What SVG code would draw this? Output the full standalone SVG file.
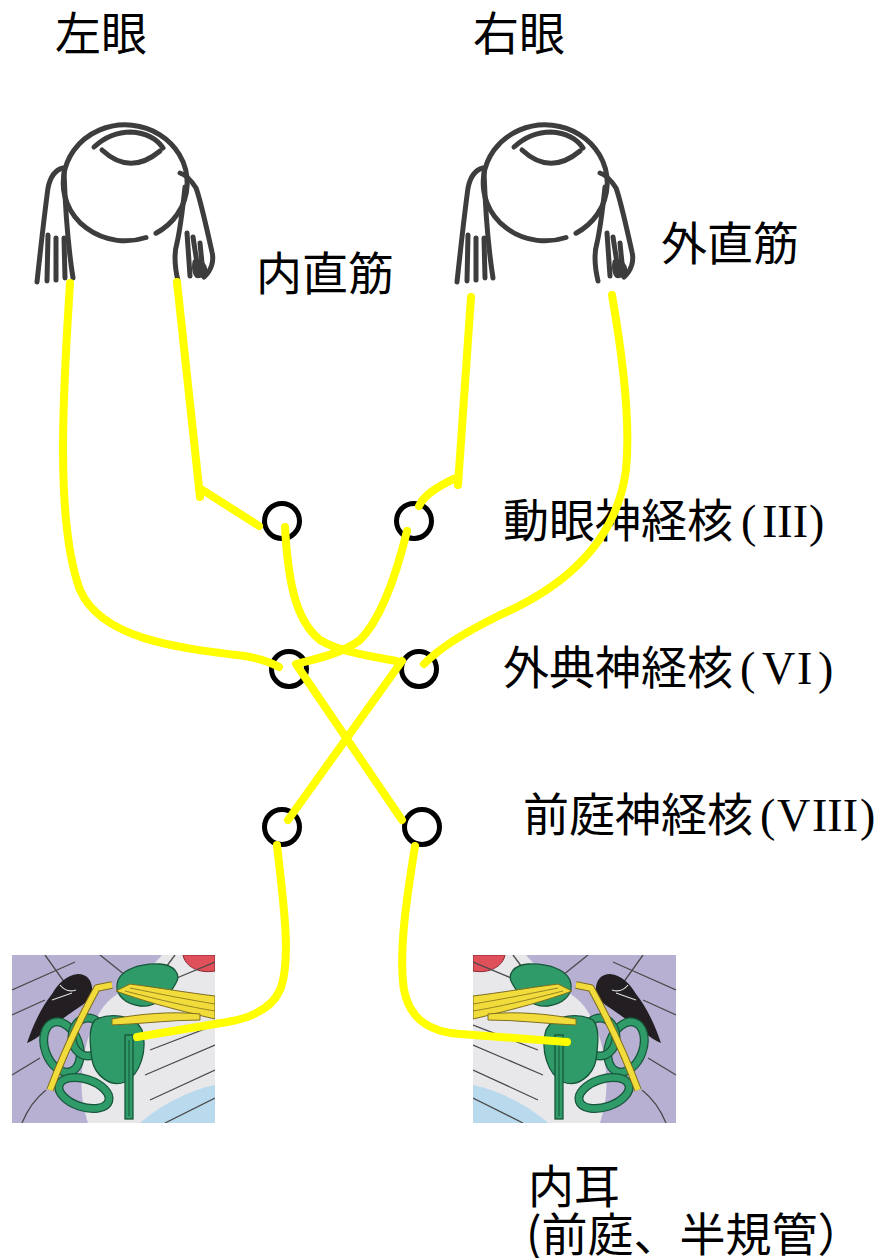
<svg xmlns="http://www.w3.org/2000/svg" xmlns:xlink="http://www.w3.org/1999/xlink" width="877" height="1258" viewBox="0 0 877 1258">
  <style>
    .lbl { font-family: "Noto Sans CJK JP", "Noto Sans CJK SC", sans-serif; font-size: 46px; fill: #000; }
    .rom { font-family: "Liberation Serif", serif; }
    .nuc { fill: none; stroke: #000; stroke-width: 5; }
    .nerve { fill: none; stroke: #ffff00; stroke-width: 8; stroke-linecap: round; stroke-linejoin: round; }
    .pencil { fill: none; stroke: #3d3d3d; stroke-width: 5; stroke-linecap: round; stroke-linejoin: round; }
    .thin { fill: none; stroke: #4a4a4a; stroke-width: 1.3; }
    .canal-out { fill: none; stroke: #17563a; stroke-width: 9; }
    .canal-in { fill: none; stroke: #2e9b69; stroke-width: 6.5; }
    .green { fill: #2e9b69; stroke: #17563a; stroke-width: 1.3; }
    .yel { fill: #f2dc3c; stroke: #7d6d1c; stroke-width: 1; }
  </style>
  <defs>
    <!-- pencil sketch of an eyeball with its two horizontal recti, local origin at top-left -->
    <g id="eyeball">
      <path class="pencil" d="M116,127.5 A62,58 0 1 1 126,123.2"/>
      <path class="pencil" d="M64,37 C76,26 90,22 101,22 C117,23 127,29 133,38"/>
      <path class="pencil" d="M72,40 Q100,66 130,41"/>
      <!-- muscle band on the left -->
      <path class="pencil" d="M33,58 C25,60 20,68 18,78 C15,100 11,135 7,172"/>
      <path class="pencil" d="M34,62 C35,90 37,130 43,168"/>
      <path class="pencil" d="M18,125 L17,171 M26,128 L26,170 M34,128 L35,168"/>
      <!-- muscle band on the right -->
      <path class="pencil" d="M150,63 C156,65 161,70 166,78 C170,88 176,115 182,142 C184,150 182,160 174,167"/>
      <path class="pencil" d="M155,77 C153,95 151,115 147,133 C144,143 145,158 148,171"/>
      <path class="pencil" d="M157,123 L160,166 M163,127 L167,153 M170,133 L173,163"/>
      <path d="M163,150 C167,148 175,150 177,158 C178,165 172,169 166,168 C162,165 161,156 163,150 Z" fill="#3d3d3d"/>
    </g>
    <clipPath id="earClip"><rect x="12" y="955" width="203" height="168"/></clipPath>
    <!-- inner ear illustration: labyrinth, vestibulocochlear nerve, ossicles -->
    <g id="innerEar" clip-path="url(#earClip)">
      <rect x="12" y="955" width="203" height="168" fill="#e8e8eb"/>
      <path d="M12,955 H162 C150,970 130,985 112,998 C95,1012 85,1040 82,1070 C80,1095 84,1110 88,1123 H12 Z" fill="#b8b0d3"/>
      <path d="M140,1123 C160,1105 190,1090 215,1085 V1123 Z" fill="#b9d9ec"/>
      <path d="M183,955 C185,966 198,974 215,971 V955 Z" fill="#e0505a" stroke="#8a2a30" stroke-width="1"/>
      <path class="thin" d="M12,990 L75,962 M45,955 L70,990 M12,1015 L45,1000 M12,1075 L40,1058 M22,1123 C28,1108 36,1098 46,1090 M150,1050 L215,1025 M145,1075 L215,1045 M150,1100 L215,1070 M165,1123 L215,1098 M160,985 L215,962 M100,955 L125,975 M175,955 L160,975"/>
      <!-- ossicles -->
      <path d="M27,1043 C33,1025 42,1006 52,994 C58,984 66,975 78,974 C88,974 93,982 92,992 C90,1000 84,1004 78,1008 C68,1015 55,1024 45,1032 C38,1037 32,1041 27,1043 Z" fill="#221e22"/>
      <path d="M52,1000 L72,993 M60,985 C64,990 70,992 76,990" fill="none" stroke="#e0e0e0" stroke-width="1.2"/>
      <!-- semicircular canals -->
      <ellipse class="canal-out" cx="62" cy="1047" rx="17" ry="26" transform="rotate(-20 62 1047)"/>
      <ellipse class="canal-in" cx="62" cy="1047" rx="17" ry="26" transform="rotate(-20 62 1047)"/>
      <ellipse class="canal-out" cx="88" cy="1037" rx="16" ry="19"/>
      <ellipse class="canal-in" cx="88" cy="1037" rx="16" ry="19"/>
      <ellipse class="canal-out" cx="84" cy="1093" rx="26" ry="14" transform="rotate(18 84 1093)"/>
      <ellipse class="canal-in" cx="84" cy="1093" rx="26" ry="14" transform="rotate(18 84 1093)"/>
      <!-- vestibule and stem -->
      <path class="green" d="M95,1020 C110,1012 135,1015 142,1030 C148,1050 140,1075 125,1082 C110,1088 95,1075 92,1060 C90,1045 88,1028 95,1020 Z"/>
      <rect class="green" x="125" y="1035" width="8" height="84"/>
      <path d="M129,1040 V1116" stroke="#17563a" stroke-width="1"/>
      <!-- facial nerve rod -->
      <path d="M112,985 L97,988 C85,1010 65,1050 50,1090" fill="none" stroke="#7d6d1c" stroke-width="7.5" stroke-linejoin="round"/>
      <path d="M112,985 L97,988 C85,1010 65,1050 50,1090" fill="none" stroke="#f2dc3c" stroke-width="5.5" stroke-linejoin="round"/>
      <!-- upper green mass -->
      <path class="green" d="M117,985 C118,970 140,963 160,964 C175,965 181,975 176,983 C170,995 155,1008 140,1006 C125,1004 116,995 117,985 Z"/>
      <!-- nerve bundle -->
      <path class="yel" d="M215,996 C190,993 160,988 130,984 L116,991 C140,1000 172,1009 215,1019 Z"/>
      <path d="M130,988 C160,994 190,1000 215,1004 M125,991 C160,1000 190,1007 215,1011" fill="none" stroke="#7d6d1c" stroke-width="0.8"/>
      <path class="yel" d="M112,1019 C140,1014 170,1011 200,1014 L200,1020 C170,1020 140,1024 112,1025 Z"/>
    </g>
  </defs>

  <!-- eyes -->
  <g id="left-eye">
    <use xlink:href="#eyeball" transform="translate(30,110)"/>
    <text class="lbl" x="55" y="50">左眼</text>
  </g>
  <g id="right-eye">
    <use xlink:href="#eyeball" transform="translate(450,110)"/>
    <text class="lbl" x="473" y="50">右眼</text>
  </g>
  <g id="label-medial-rectus"><text class="lbl" x="256" y="290">内直筋</text></g>
  <g id="label-lateral-rectus"><text class="lbl" x="661" y="260">外直筋</text></g>

  <!-- brainstem nuclei -->
  <g id="oculomotor-nucleus">
    <circle class="nuc" cx="282" cy="521" r="17.5"/>
    <circle class="nuc" cx="414" cy="521" r="17.5"/>
    <text class="lbl" x="503" y="537">動眼神経核<tspan class="rom" x="741">(</tspan><tspan class="rom" x="762">III</tspan><tspan class="rom" x="809">)</tspan></text>
  </g>
  <g id="abducens-nucleus">
    <circle class="nuc" cx="289" cy="669" r="17.5"/>
    <circle class="nuc" cx="419" cy="669" r="17.5"/>
    <text class="lbl" x="503" y="684">外典神経核<tspan class="rom" x="740">(</tspan><tspan class="rom" x="762">V</tspan><tspan class="rom" x="797">I</tspan><tspan class="rom" x="818">)</tspan></text>
  </g>
  <g id="vestibular-nucleus">
    <circle class="nuc" cx="282" cy="827" r="17.5"/>
    <circle class="nuc" cx="422" cy="827" r="17.5"/>
    <text class="lbl" x="523" y="831">前庭神経核<tspan class="rom" x="760">(</tspan><tspan class="rom" x="777">V</tspan><tspan class="rom" x="812">III</tspan><tspan class="rom" x="860">)</tspan></text>
  </g>

  <!-- inner ears -->
  <g id="left-inner-ear">
    <use xlink:href="#innerEar"/>
  </g>
  <g id="right-inner-ear">
    <use xlink:href="#innerEar" transform="matrix(-1 0 0 1 688 0)"/>
    <text class="lbl" x="528" y="1203">内耳</text>
    <text class="lbl" x="526" y="1251">(前庭、半規管）</text>
  </g>

  <!-- nerve pathways -->
  <g id="connectors">
    <path class="nerve" d="M70,283 C64,380 54,520 80,590 C102,640 180,648 245,656 C262,659 272,663 279,667"/>
    <path class="nerve" d="M177,282 L200,497 M201,489 L259,526"/>
    <path class="nerve" d="M471,297 L458,485 M458,477 C440,485 424,494 419,506"/>
    <path class="nerve" d="M612,295 C625,370 630,430 626,470 C618,530 580,580 500,615 C460,635 440,648 424,664"/>
    <path class="nerve" d="M285,527 C288,580 295,620 320,640 C340,652 370,656 396,661"/>
    <path class="nerve" d="M407,531 C395,580 380,620 360,640 C340,655 310,660 296,664 L402,820"/>
    <path class="nerve" d="M288,820 L402,661"/>
    <path class="nerve" d="M277,845 C283,900 292,960 280,990 C270,1012 245,1020 215,1024 L137,1037"/>
    <path class="nerve" d="M415,846 C408,890 398,950 404,990 C410,1020 430,1032 460,1034 L567,1042"/>
  </g>
</svg>
